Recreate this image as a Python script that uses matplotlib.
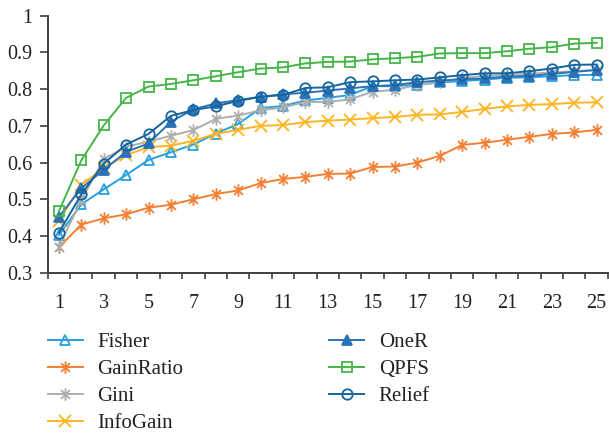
import matplotlib
matplotlib.use("Agg")
import matplotlib.pyplot as plt
from matplotlib.path import Path
import numpy as np

plt.rcParams['font.family'] = ['Liberation Serif', 'DejaVu Serif']

x = list(range(1, 26))
fisher = [0.402, 0.486, 0.527, 0.566, 0.607, 0.628, 0.649, 0.679, 0.705, 0.748, 0.754, 0.769,
          0.776, 0.784, 0.808, 0.808, 0.812, 0.818, 0.822, 0.826, 0.831, 0.832, 0.835, 0.838, 0.839]
gainratio = [0.369, 0.431, 0.448, 0.459, 0.477, 0.485, 0.500, 0.514, 0.524, 0.544, 0.555, 0.561,
             0.569, 0.570, 0.588, 0.589, 0.600, 0.618, 0.648, 0.654, 0.662, 0.670, 0.678, 0.682, 0.689]
gini = [0.371, 0.498, 0.609, 0.643, 0.657, 0.673, 0.688, 0.719, 0.728, 0.742, 0.750, 0.765,
        0.765, 0.772, 0.793, 0.798, 0.811, 0.819, 0.830, 0.836, 0.838, 0.842, 0.845, 0.849, 0.852]
infogain = [0.441, 0.539, 0.585, 0.620, 0.642, 0.646, 0.659, 0.678, 0.689, 0.700, 0.702, 0.710,
            0.714, 0.717, 0.721, 0.724, 0.730, 0.731, 0.738, 0.746, 0.753, 0.757, 0.759, 0.763, 0.764]
oner = [0.452, 0.530, 0.580, 0.629, 0.652, 0.711, 0.745, 0.761, 0.770, 0.779, 0.786, 0.790,
        0.796, 0.802, 0.808, 0.811, 0.819, 0.823, 0.827, 0.829, 0.834, 0.836, 0.841, 0.847, 0.852]
qpfs = [0.467, 0.606, 0.701, 0.776, 0.807, 0.814, 0.824, 0.835, 0.846, 0.856, 0.859, 0.870,
        0.874, 0.875, 0.881, 0.884, 0.888, 0.897, 0.898, 0.898, 0.903, 0.910, 0.914, 0.924, 0.926]
relief = [0.409, 0.513, 0.597, 0.649, 0.678, 0.727, 0.743, 0.753, 0.768, 0.779, 0.784, 0.803,
          0.805, 0.819, 0.821, 0.824, 0.826, 0.832, 0.838, 0.843, 0.843, 0.849, 0.856, 0.866, 0.867]

names = ['Fisher', 'GainRatio', 'Gini', 'InfoGain', 'OneR', 'QPFS', 'Relief']
series = [fisher, gainratio, gini, infogain, oner, qpfs, relief]
colors = ['#27A0E0', '#F47F32', '#AEAEAE', '#FDB522', '#2C72B8', '#45B549', '#14649E']

# Excel-style star: x plus vertical bar
star_path = Path(
    [(0, 0), (0, 1), (0, 0), (0, -1),
     (0, 0), (0.707, 0.707), (0, 0), (-0.707, -0.707),
     (0, 0), (-0.707, 0.707), (0, 0), (0.707, -0.707)],
    [Path.MOVETO, Path.LINETO] * 6)

markers = ['^', star_path, star_path, 'x', '^', 's', 'o']
fills = ['none', None, None, None, 'full', 'none', 'none']
msizes = [7, 9, 9, 8, 7, 7, 7.5]

fig = plt.figure(figsize=(6.09, 4.34), dpi=100)
ax = fig.add_axes([0.0783, 0.3717, 0.9197, 0.5922])

handles = []
for name, vals, c, m, f, ms in zip(names, series, colors, markers, fills, msizes):
    kw = dict(color=c, marker=m, markersize=ms, linewidth=1.4, markeredgewidth=1.3, label=name)
    if f == 'none':
        kw['markerfacecolor'] = 'none'
    elif f == 'full':
        kw['markerfacecolor'] = c
    h, = ax.plot(x, vals, **kw)
    handles.append(h)

ax.set_xlim(0.5, 25.5)
ax.set_ylim(0.3, 1.0)
yt = [0.3, 0.4, 0.5, 0.6, 0.7, 0.8, 0.9, 1.0]
ax.set_yticks(yt)
ax.set_yticklabels(['0.3', '0.4', '0.5', '0.6', '0.7', '0.8', '0.9', '1'])
ax.set_xticks(np.arange(0.5, 26, 1.0))
ax.set_xticklabels([])
ax.set_xticks(list(range(1, 26, 2)), minor=True)
ax.set_xticklabels([str(v) for v in range(1, 26, 2)], minor=True)
ax.tick_params(axis='x', which='major', direction='out', length=4, width=1.2, color='#404040')
ax.tick_params(axis='x', which='minor', length=0, pad=15.5, labelsize=14.5, labelcolor='#222222')
ax.tick_params(axis='y', direction='out', length=6, width=1.2, color='#404040', pad=5,
               labelsize=14.5, labelcolor='#222222')
for s in ['top', 'right']:
    ax.spines[s].set_visible(False)
for s in ['left', 'bottom']:
    ax.spines[s].set_linewidth(1.4)
    ax.spines[s].set_color('#404040')

legkw = dict(loc='upper left', frameon=False, fontsize=15, handlelength=1.7, handletextpad=0.7,
             labelspacing=0.35, borderpad=0, borderaxespad=0, labelcolor='#222222')
leg1 = fig.legend(handles=handles[:4], bbox_to_anchor=(0.078, 0.2336), **legkw)
leg2 = fig.legend(handles=handles[4:], bbox_to_anchor=(0.54, 0.2336), **legkw)

fig.savefig('out.png', dpi=100)
